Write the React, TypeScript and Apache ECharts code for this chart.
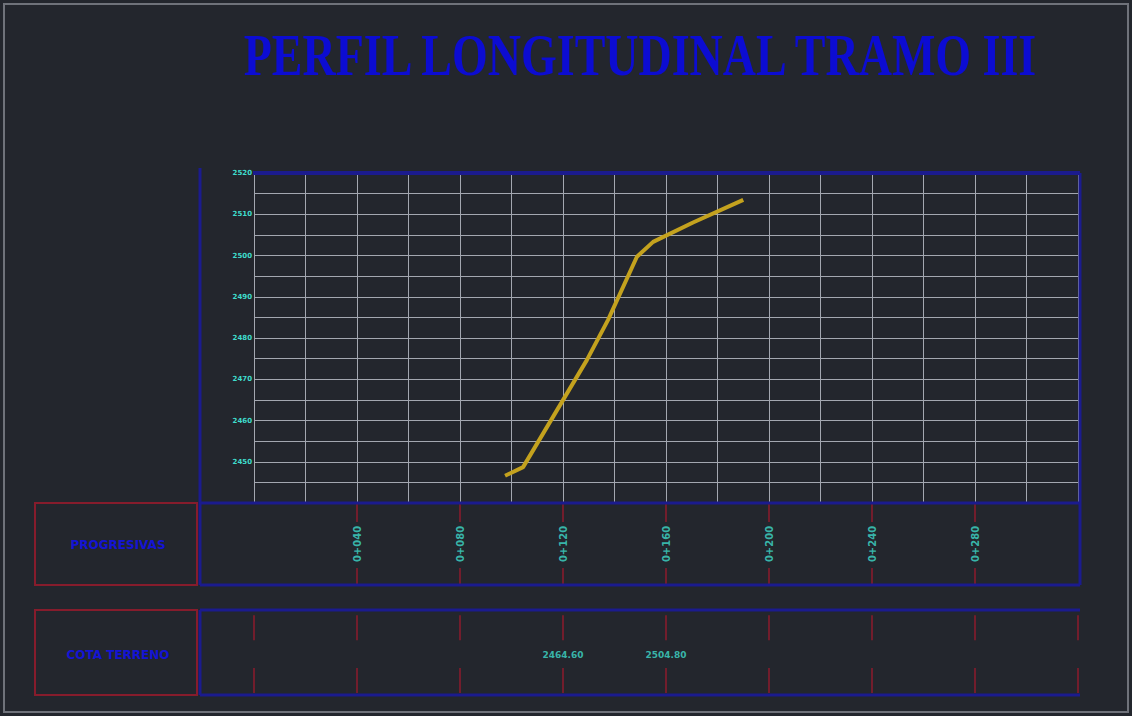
import React, { useEffect, useRef } from "react";
import * as echarts from "echarts";

// ---- data ----
const titleText = "PERFIL LONGITUDINAL TRAMO III";
const rowLabels = ["PROGRESIVAS", "COTA TERRENO"];
const stations = [0, 40, 80, 120, 160, 200, 240, 280, 320];
const progresivaX = [40, 80, 120, 160, 200, 240, 280];
const progresivaLabels = ["0+040", "0+080", "0+120", "0+160", "0+200", "0+240", "0+280"];
const profileX = [97.5, 104.5, 129.3, 137.5, 148.7, 155, 170.5, 190];
const profileY = [2446.6, 2448.7, 2474.7, 2484.4, 2499.7, 2503.3, 2508, 2513.5];
const cotaX = [120, 160];
const cotaLabels = ["2464.60", "2504.80"];
const yMin = 2440;
const yMax = 2520;
const yStep = 10;
const xMin = 0;
const xMax = 320;
const xStep = 20;

const BG = "#23262d";
const BLUE = "#1b1b8e";
const RED = "#861c2c";
const CYAN = "#3fdccc";
const GRID = "#a3a7b0";

export default function App() {
  const ref = useRef<HTMLDivElement>(null);
  useEffect(() => {
    document.body.style.margin = "0";
    document.body.style.background = BG;
    const chart = echarts.init(ref.current!, null, { renderer: "svg" });

    const L = 254, R = 1078, T = 173, B = 503;
    const r1T = 503, r1B = 585, r2T = 610, r2B = 695;

    const line = (x1: number, y1: number, x2: number, y2: number, color: string, w: number) => ({
      type: "line",
      z: 10,
      shape: { x1, y1, x2, y2 },
      style: { stroke: color, lineWidth: w },
    });

    chart.setOption({
      animation: false,
      backgroundColor: BG,
      grid: [
        { left: L, top: T, width: R - L, height: B - T },
        { left: L, top: r1T, width: R - L, height: r1B - r1T },
        { left: L, top: r2T, width: R - L, height: r2B - r2T },
      ],
      xAxis: [0, 1, 2].map((g) => ({
        type: "value",
        gridIndex: g,
        min: xMin,
        max: xMax,
        interval: xStep,
        axisLine: { show: false },
        axisTick: { show: false },
        axisLabel: { show: false },
        splitLine: { show: g === 0, lineStyle: { color: GRID, width: 1 } },
      })),
      yAxis: [
        {
          type: "value",
          gridIndex: 0,
          min: yMin,
          max: yMax,
          interval: yStep,
          minorTick: { show: false, splitNumber: 2 },
          minorSplitLine: { show: true, lineStyle: { color: GRID, width: 1 } },
          axisLine: { show: false },
          axisTick: { show: false },
          axisLabel: {
            showMinLabel: false,
            color: CYAN,
            fontSize: 7,
            fontWeight: "bold",
            fontFamily: "DejaVu Sans",
            margin: 2,
            formatter: (v: number) => String(v),
          },
          splitLine: { show: true, lineStyle: { color: GRID, width: 1 } },
        },
        { type: "value", gridIndex: 1, min: 0, max: 1, show: false },
        { type: "value", gridIndex: 2, min: 0, max: 1, show: false },
      ],
      series: [
        {
          type: "line",
          xAxisIndex: 0,
          yAxisIndex: 0,
          data: profileX.map((x, i) => [x, profileY[i]]),
          symbol: "none",
          lineStyle: { color: "#c4a21e", width: 4 },
          z: 5,
        },
        // row 1 red ticks
        {
          type: "scatter",
          xAxisIndex: 1,
          yAxisIndex: 1,
          symbol: "rect",
          itemStyle: { color: RED },
          data: [
            ...progresivaX.map((x) => ({ value: [x, 0.885], symbolSize: [2, 19] })),
            ...progresivaX.map((x) => ({ value: [x, 0.105], symbolSize: [2, 17] })),
          ],
        },
        // row 1 labels
        {
          type: "scatter",
          xAxisIndex: 1,
          yAxisIndex: 1,
          symbol: "rect",
          symbolSize: 1,
          itemStyle: { color: "rgba(0,0,0,0)" },
          label: {
            show: true,
            position: "inside",
            rotate: 90,
            formatter: "{b}",
            color: CYAN,
            fontSize: 10,
            fontWeight: "bold",
            fontFamily: "DejaVu Sans",
          },
          data: progresivaX.map((x, i) => ({ value: [x, 0.5], name: progresivaLabels[i] })),
        },
        // row 2 red ticks
        {
          type: "scatter",
          xAxisIndex: 2,
          yAxisIndex: 2,
          symbol: "rect",
          itemStyle: { color: RED },
          data: [
            ...stations.map((x) => ({ value: [x, 0.79], symbolSize: [2, 25] })),
            ...stations.map((x) => ({ value: [x, 0.17], symbolSize: [2, 25] })),
          ],
        },
        // row 2 labels
        {
          type: "scatter",
          xAxisIndex: 2,
          yAxisIndex: 2,
          symbol: "rect",
          symbolSize: 1,
          itemStyle: { color: "rgba(0,0,0,0)" },
          label: {
            show: true,
            position: "inside",
            formatter: "{b}",
            color: CYAN,
            fontSize: 9,
            fontWeight: "bold",
            fontFamily: "DejaVu Sans",
          },
          data: cotaX.map((x, i) => ({ value: [x, 0.47], name: cotaLabels[i] })),
        },
      ],
      graphic: [
        {
          type: "rect",
          z: 10,
          shape: { x: 4, y: 4, width: 1124, height: 708 },
          style: { fill: "none", stroke: "#6f727a", lineWidth: 2 },
        },
        {
          type: "text",
          z: 10,
          x: 640,
          y: 55,
          scaleY: 1.3,
          style: {
            text: titleText,
            fill: "#0c0cd2",
            fontFamily: "Liberation Serif",
            fontWeight: "bold",
            fontSize: 46,
            align: "center",
            verticalAlign: "middle",
          },
        },
        // plot frame
        line(253, T, 1080, T, BLUE, 4),
        line(200, 168, 200, B, BLUE, 3),
        line(200, B, 1080, B, BLUE, 3),
        line(1080, T, 1080, B, BLUE, 3),
        // row frames
        line(200, r1B, 1080, r1B, BLUE, 3),
        line(200, r1T, 200, r1B, BLUE, 3),
        line(1080, r1T, 1080, r1B, BLUE, 3),
        line(200, r2T, 1080, r2T, BLUE, 3),
        line(200, r2B, 1080, r2B, BLUE, 3),
        line(200, r2T, 200, r2B, BLUE, 3),
        // red label boxes
        {
          type: "rect",
          z: 10,
          shape: { x: 35, y: r1T, width: 162, height: r1B - r1T },
          style: { fill: "none", stroke: RED, lineWidth: 2 },
        },
        {
          type: "rect",
          z: 10,
          shape: { x: 35, y: r2T, width: 162, height: r2B - r2T },
          style: { fill: "none", stroke: RED, lineWidth: 2 },
        },
        {
          type: "text",
          z: 10,
          x: 118,
          y: 545,
          style: {
            text: rowLabels[0],
            fill: "#1414d4",
            fontFamily: "DejaVu Sans",
            fontWeight: "bold",
            fontSize: 12,
            align: "center",
            verticalAlign: "middle",
          },
        },
        {
          type: "text",
          z: 10,
          x: 118,
          y: 655,
          style: {
            text: rowLabels[1],
            fill: "#1414d4",
            fontFamily: "DejaVu Sans",
            fontWeight: "bold",
            fontSize: 12,
            align: "center",
            verticalAlign: "middle",
          },
        },
      ],
    });
    return () => chart.dispose();
  }, []);
  return <div ref={ref} style={{ width: 1132, height: 716 }} />;
}
